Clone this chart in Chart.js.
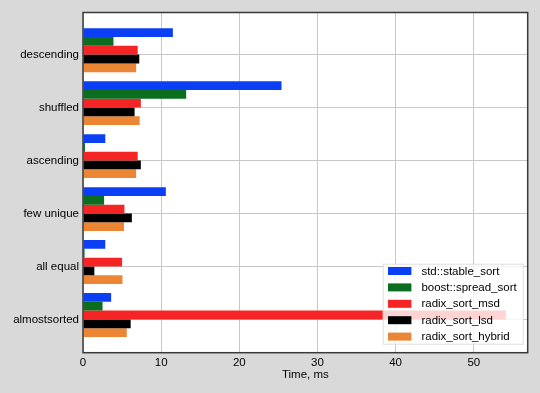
<!DOCTYPE html>
<html>
<head>
<meta charset="utf-8">
<script src="https://cdn.jsdelivr.net/npm/chart.js@4/dist/chart.umd.min.js"></script>
<style>
  html, body { margin: 0; padding: 0; background: #d9d9d9; }
  #wrap { width: 540px; height: 393px; }
</style>
</head>
<body>
<div id="wrap"><canvas id="chart"></canvas></div>
<script>
/* categories, top to bottom */
const categories = ["descending", "shuffled", "ascending", "few unique", "all equal", "almostsorted"];
const xTicks = [0, 10, 20, 30, 40, 50];

/* Time, ms per sort */
const stableSort = [11.5, 25.4, 2.85, 10.6, 2.85, 3.6];
const spreadSort = [3.9, 13.2, 0.25, 2.7, 0.2, 2.5];
const radixMsd = [7.0, 7.4, 7.0, 5.3, 5.0, 54.1];
const radixLsd = [7.2, 6.6, 7.4, 6.25, 1.45, 6.1];
const radixHybrid = [6.8, 7.25, 6.8, 5.25, 5.05, 5.6];

const seriesNames = ["std::stable_sort", "boost::spread_sort", "radix_sort_msd", "radix_sort_lsd", "radix_sort_hybrid"];
const seriesColors = ["#0a3ff5", "#0b6e1e", "#f52525", "#000000", "#ec8534"];
const seriesValues = [stableSort, spreadSort, radixMsd, radixLsd, radixHybrid];

const FONT = "'Liberation Sans', Arial, sans-serif";
const tickShift = 0.083; // category ticks sit between 3rd and 4th bar

const datasets = seriesValues.map((vals, k) => ({
  label: seriesNames[k],
  backgroundColor: seriesColors[k],
  borderWidth: 0,
  categoryPercentage: 0.829,
  barPercentage: 1,
  data: vals.map((v, i) => ({ x: v, y: i })),
}));

/* white plot background */
const plotBg = {
  id: "plotBg",
  beforeDraw(chart) {
    const { ctx, chartArea: a } = chart;
    ctx.save();
    ctx.fillStyle = "#fff";
    ctx.fillRect(a.left, a.top, a.right - a.left, a.bottom - a.top);
    ctx.restore();
  },
};

/* frame around plot + legend box inside the plot */
const framePlugin = {
  id: "frameAndLegend",
  afterDatasetsDraw(chart) {
    const { ctx, chartArea: a } = chart;
    ctx.save();
    ctx.strokeStyle = "#3a3a3a";
    ctx.lineWidth = 1.5;
    ctx.strokeRect(a.left, a.top, a.right - a.left, a.bottom - a.top);

    // legend
    const bx = a.right - 145, by = a.bottom - 89, bw = 141, bh = 81;
    ctx.fillStyle = "rgba(255,255,255,0.8)";
    ctx.fillRect(bx, by, bw, bh);
    ctx.strokeStyle = "rgba(200,200,200,0.6)";
    ctx.lineWidth = 1;
    ctx.strokeRect(bx + 0.5, by + 0.5, bw - 1, bh - 1);
    ctx.font = "11.5px " + FONT;
    ctx.textBaseline = "middle";
    ctx.textAlign = "left";
    chart.data.datasets.forEach((ds, k) => {
      const cy = by + 7.3 + k * 16.4;
      ctx.fillStyle = ds.backgroundColor;
      ctx.fillRect(bx + 5.3, cy - 4, 23.4, 8);
      ctx.fillStyle = "#000";
      ctx.fillText(ds.label, bx + 38.7, cy + 0.5);
    });
    ctx.restore();
  },
};

new Chart(document.getElementById("chart"), {
  type: "bar",
  data: { datasets },
  options: {
    indexAxis: "y",
    responsive: true,
    maintainAspectRatio: false,
    animation: false,
    layout: { padding: { top: 12.5, right: 12.3, left: 0, bottom: 0 } },
    scales: {
      x: {
        type: "linear",
        min: 0,
        max: 56.9,
        afterBuildTicks: (axis) => { axis.ticks = xTicks.map((v) => ({ value: v })); },
        afterFit: (axis) => { axis.height = 40.3; },
        grid: { color: "#c8c8c8", lineWidth: 1, drawTicks: false },
        border: { display: false },
        ticks: { color: "#000", padding: 3, font: { family: FONT, size: 11.5 } },
        title: {
          display: true,
          text: "Time, ms",
          color: "#000",
          font: { family: FONT, size: 11.5 },
          padding: { top: 0, bottom: 11 },
        },
      },
      y: {
        type: "linear",
        reverse: true,
        offset: false,
        min: -0.712,
        max: categories.length - 1 + 0.712,
        afterBuildTicks: (axis) => {
          axis.ticks = categories.map((c, i) => ({ value: i + tickShift }));
        },
        afterFit: (axis) => { axis.width = 83; },
        grid: { color: "#c8c8c8", lineWidth: 1, drawTicks: false, offset: false },
        border: { display: false },
        ticks: {
          color: "#000",
          padding: 4,
          font: { family: FONT, size: 11.5 },
          callback: (v) => categories[Math.round(v - tickShift)],
        },
      },
    },
    plugins: {
      legend: { display: false },
      tooltip: { enabled: false },
    },
  },
  plugins: [plotBg, framePlugin],
});
</script>
</body>
</html>
